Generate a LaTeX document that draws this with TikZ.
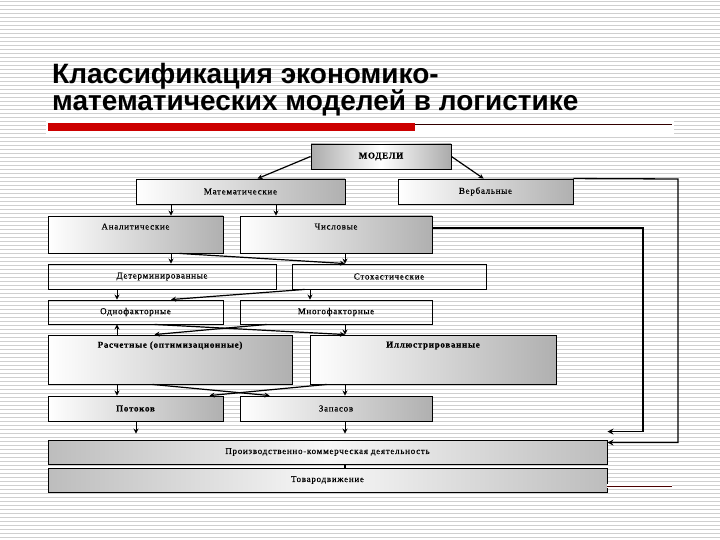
\documentclass[tikz,border=0pt]{standalone}
\usepackage{fontspec}
\setmainfont{Liberation Serif}
\newfontfamily\titlefont{Liberation Sans}
\newfontfamily\boxfont{Liberation Serif}[LetterSpace=8,FakeBold=0.5]
\usetikzlibrary{arrows.meta,calc}
\begin{document}
\begin{tikzpicture}[x=1pt,y=-1pt,
  box/.style={draw=black,line width=0.9pt,inner sep=0pt,anchor=center,
    font=\boxfont\fontsize{9}{10}\selectfont},
  plainbox/.style={box},
  gbox/.style={box,left color=white,right color=gray!62},
  midbox/.style={box,left color=gray!66,right color=gray!66,middle color=white},
  barbox/.style={box,left color=gray!52,right color=gray!52,middle color=gray!6},
  txt/.style={inner sep=0pt,font=\boxfont\fontsize{9}{10}\selectfont},
  bold/.style={font=\boxfont\bfseries\fontsize{9}{10}\selectfont},
  arr/.style={line width=0.9pt,-{Stealth[length=5pt,width=5pt]}},
  darr/.style={line width=1.2pt,-{Stealth[length=5pt,width=5pt]}},
  sidearr/.style={line width=1.3pt,-{Stealth[length=6pt,width=6pt]}}
]
\useasboundingbox (0,0) rectangle (720,540);
\fill[white] (0,0) rectangle (720,540);
\foreach \k in {0,...,134}
  \draw[gray!38,line width=1pt] (0,{\k*4+1.5}) -- (720,{\k*4+1.5});

% title
\node[anchor=base west,inner sep=0pt,font=\titlefont\bfseries\fontsize{28}{30}\selectfont] (t1) at (52,84) {Классификация экономико-};
\node[anchor=base west,inner sep=0pt,font=\titlefont\bfseries\fontsize{28}{30}\selectfont] (t2) at (52,111) {математических моделей в логистике};
\fill[white] (46,119) rectangle (674,135);
\fill[red!80!black] (48,123) rectangle (415,131);
\draw[black!80!red,line width=0.8pt] (415,124) -- (672,124);

% columns
\coordinate (xa) at (171,0);
\coordinate (xb) at (276,0);
\coordinate (xc) at (345,0);
\coordinate (xd) at (117,0);
\coordinate (xe) at (310,0);
\coordinate (xf) at (136,0);

% boxes
\node[midbox,bold,minimum width=140pt,minimum height=25pt] (mod) at (381,156.5) {МОДЕЛИ};
\node[gbox,minimum width=209pt,minimum height=25pt] (mat) at (240.5,191.5) {Математические};
\node[gbox,minimum width=175pt,minimum height=25pt] (verb) at (485.5,191.5) {Вербальные};
\node[gbox,minimum width=175pt,minimum height=37pt] (anal) at (135.5,234.5) {};
\node[gbox,minimum width=192pt,minimum height=37pt] (chis) at (336,234.5) {};
\node[plainbox,minimum width=228pt,minimum height=25pt] (det) at (162,276.5) {Детерминированные};
\node[plainbox,minimum width=194pt,minimum height=25pt] (stoh) at (389,276.5) {Стохастические};
\node[plainbox,minimum width=175pt,minimum height=24pt] (odno) at (135.5,312) {Однофакторные};
\node[plainbox,minimum width=192pt,minimum height=24pt] (mnogo) at (336,312) {Многофакторные};
\node[gbox,minimum width=244pt,minimum height=49pt] (rasch) at (170,359.5) {};
\node[gbox,minimum width=246pt,minimum height=49pt] (illy) at (433,359.5) {};
\node[gbox,bold,minimum width=175pt,minimum height=25pt] (potok) at (135.5,408.5) {Потоков};
\node[gbox,minimum width=192pt,minimum height=25pt] (zapas) at (336,408.5) {Запасов};
\node[barbox,minimum width=559pt,minimum height=24pt] (proizv) at (327.5,452) {Производственно-коммерческая деятельность};
\node[barbox,minimum width=559pt,minimum height=24pt] (tovar) at (327.5,480) {Товародвижение};

% texts near top of tall boxes
\node[txt] (analt) at ([yshift=-11pt]anal.north) {Аналитические};
\node[txt] (chist) at ([yshift=-11pt]chis.north) {Числовые};
\node[txt,bold] (rascht) at ([yshift=-11pt]rasch.north) {Расчетные (оптимизационные)};
\node[txt,bold] (illyt) at ([yshift=-11pt]illy.north) {Иллюстрированные};

% connectors
\draw[darr] (mod.west) -- ([xshift=122pt]mat.north west);
\draw[darr] (mod.east) -- ([xshift=86pt]verb.north west);
\draw[arr] (mat.south -| xa) -- (anal.north -| xa);
\draw[arr] (mat.south -| xb) -- (chis.north -| xb);
\draw[arr] (anal.south -| xa) -- (det.north -| xa);
\draw[arr] (chis.south -| xc) -- (stoh.north -| xc);
\draw[darr] ([xshift=132pt]anal.south west) -- (stoh.north -| xc);
\draw[arr] (det.south -| xd) -- (odno.north -| xd);
\draw[arr] (stoh.south -| xe) -- (mnogo.north -| xe);
\draw[darr] ([xshift=13pt]stoh.south west) -- (odno.north -| xa);
\draw[arr] (rasch.north -| xd) -- (odno.south -| xd);
\draw[arr] (mnogo.south -| xc) -- (illy.north -| xc);
\draw[darr] ([xshift=107pt]odno.south west) -- (illy.north -| xc);
\draw[darr] ([xshift=27pt]mnogo.south west) -- ([xshift=107pt]rasch.north west);
\draw[arr] (rasch.south -| xd) -- (potok.north -| xd);
\draw[arr] (illy.south -| xc) -- (zapas.north -| xc);
\draw[darr] ([xshift=105pt]rasch.south west) -- ([xshift=30pt]zapas.north west);
\draw[darr] ([xshift=17pt]illy.south west) -- ([xshift=162pt]potok.north west);
\draw[arr] (potok.south -| xf) -- ([yshift=6pt]proizv.north -| xf);
\draw[arr] (zapas.south -| xc) -- ([yshift=6pt]proizv.north -| xc);
\draw[line width=1.2pt] (proizv.south -| xc) -- (tovar.north -| xc);

% right side loops
\coordinate (r1) at (678,179);
\coordinate (r2) at (643,228);
\draw[sidearr] (verb.north east) -- (r1) |- ([yshift=-3pt]proizv.north east);
\draw[sidearr] ([yshift=6.5pt]chis.east) -- (r2) |- ([yshift=8pt]proizv.north east);

% bottom right line
\coordinate (redend) at (672,486);
\draw[white,line width=4pt] ([yshift=-6pt]tovar.east) -- (redend);
\draw[black!70!red,line width=0.8pt] ([yshift=-6pt]tovar.east) -- (redend);
\end{tikzpicture}
\end{document}
